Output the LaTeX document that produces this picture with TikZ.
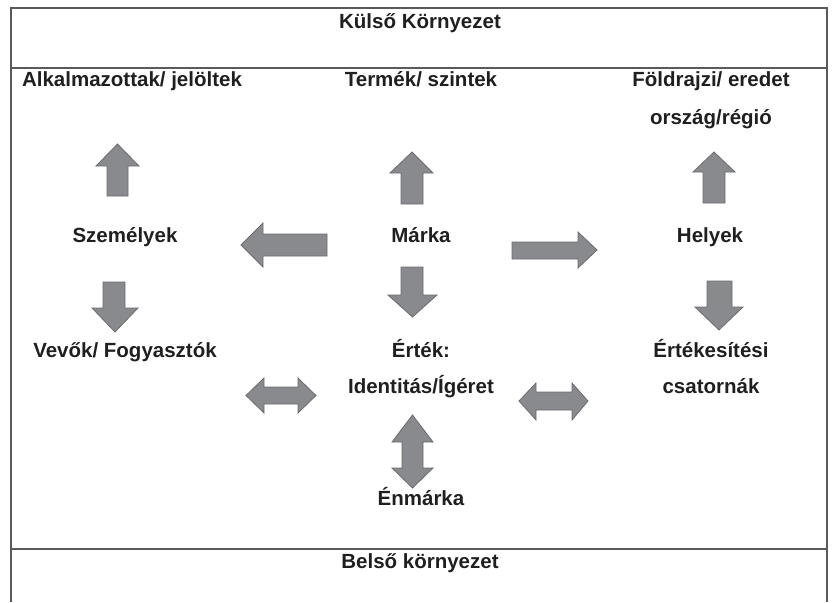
\documentclass[tikz,border=0pt]{standalone}
\usepackage{fontspec}
\setmainfont{Liberation Sans}
\definecolor{arrfill}{RGB}{137,138,142}
\definecolor{arrline}{RGB}{108,108,112}
\definecolor{frameline}{RGB}{90,90,90}
\begin{document}
\begin{tikzpicture}[x=1pt,y=-1pt,
  lbl/.style={anchor=base,inner sep=0pt,font=\bfseries\fontsize{20.5}{24}\selectfont,text=black!88},
  barrow/.style={fill=arrfill,draw=arrline,line width=0.8pt,line join=miter},
  frame/.style={draw=frameline,line width=1.6pt}]
\useasboundingbox (0,0) rectangle (832,602);
% frame
\draw[frame] (11,602) -- (11,8) -- (827,8) -- (827,602);
\draw[frame] (11,68) -- (827,68);
\draw[frame] (11,549) -- (827,549);
% texts
\node[lbl] (kulso) at (420,29) {Külső Környezet};
\node[lbl] (alk) at (132,86) {Alkalmazottak/ jelöltek};
\node[lbl] (termek) at (421,86) {Termék/ szintek};
\node[lbl] (fold) at (711,86) {Földrajzi/ eredet};
\node[lbl] (orszag) at (711,124) {ország/régió};
\node[lbl] (szem) at (125,242) {Személyek};
\node[lbl] (marka) at (421,242) {Márka};
\node[lbl] (helyek) at (710,242) {Helyek};
\node[lbl] (vevok) at (125,357) {Vevők/ Fogyasztók};
\node[lbl] (ertek) at (421,357) {Érték:};
\node[lbl] (ident) at (421,393) {Identitás/Ígéret};
\node[lbl] (ertekes) at (711,357) {Értékesítési};
\node[lbl] (csat) at (711,393) {csatornák};
\node[lbl] (enm) at (421,505) {Énmárka};
\node[lbl] (belso) at (420,568) {Belső környezet};
% up arrows
\path[barrow] (412,152) -- (433,173) -- (423,173) -- (423,204) -- (401,204) -- (401,173) -- (390,173) -- cycle;
\path[barrow] (117.5,144) -- (139,166) -- (128,166) -- (128,196) -- (107,196) -- (107,166) -- (96,166) -- cycle;
\path[barrow] (714,152) -- (735,172) -- (725,172) -- (725,203) -- (703,203) -- (703,172) -- (693,172) -- cycle;
% left arrow
\path[barrow] (241,245) -- (263,223) -- (263,234) -- (327,234) -- (327,256) -- (263,256) -- (263,267) -- cycle;
% right arrow
\path[barrow] (597,250) -- (578,232) -- (578,242) -- (512,242) -- (512,259) -- (578,259) -- (578,268) -- cycle;
% down arrows
\path[barrow] (412.5,317) -- (437,295) -- (423,295) -- (423,267) -- (401,267) -- (401,295) -- (388,295) -- cycle;
\path[barrow] (115,332) -- (138,308) -- (125,308) -- (125,282) -- (103,282) -- (103,308) -- (92,308) -- cycle;
\path[barrow] (719,330) -- (743,307) -- (732,307) -- (732,281) -- (707,281) -- (707,307) -- (695,307) -- cycle;
% horizontal double arrows
\path[barrow] (246,395.5) -- (264,378) -- (264,387) -- (298,387) -- (298,378) -- (316,395.5) -- (298,413) -- (298,404) -- (264,404) -- (264,413) -- cycle;
\path[barrow] (519,401) -- (536,383) -- (536,392) -- (572,392) -- (572,383) -- (588,401) -- (572,420) -- (572,410) -- (536,410) -- (536,420) -- cycle;
% vertical double arrow
\path[barrow] (412.5,415) -- (433,442) -- (423,442) -- (423,468) -- (433,468) -- (412.5,488) -- (392,468) -- (402,468) -- (402,442) -- (392,442) -- cycle;
\end{tikzpicture}
\end{document}
